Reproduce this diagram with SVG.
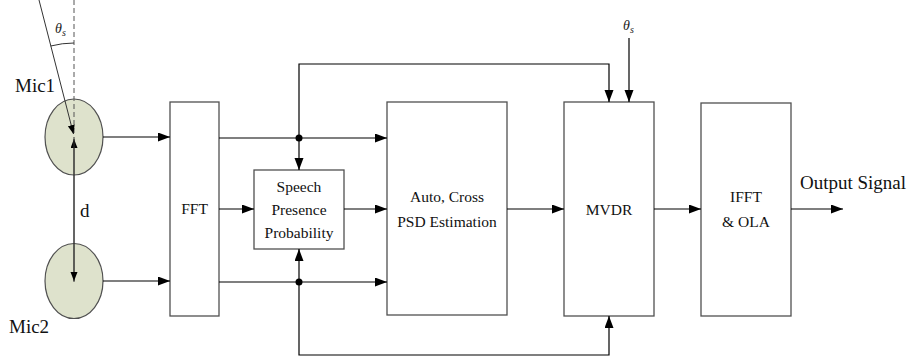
<svg xmlns="http://www.w3.org/2000/svg" width="909" height="358" viewBox="0 0 909 358" font-family="Liberation Serif, Times New Roman, serif">
  <style>
    .box { fill: #ffffff; stroke: #505050; stroke-width: 1.3; }
    .mic { fill: #dee2cc; stroke: #505050; stroke-width: 1.2; }
    .wire { fill: none; stroke: #000000; stroke-width: 1.2; }
    .thin { fill: none; stroke: #333333; stroke-width: 1; }
    text { fill: #111111; }
    .big { font-size: 19px; }
    .mid { font-size: 15.5px; }
    .math { font-style: italic; fill: #222222; font-size: 14px; }
  </style>
  <defs>
    <marker id="arrow" markerUnits="userSpaceOnUse" markerWidth="13" markerHeight="10" refX="12" refY="4.5" orient="auto">
      <path d="M0,0 L12,4.5 L0,9 z" fill="#000000"/>
    </marker>
    <marker id="arrowSmall" markerUnits="userSpaceOnUse" markerWidth="10" markerHeight="8" refX="9" refY="3.5" orient="auto">
      <path d="M0,0 L9,3.5 L0,7 z" fill="#000000"/>
    </marker>
  </defs>

  <!-- microphones and geometry -->
  <g id="mic1">
    <ellipse class="mic" cx="74" cy="137" rx="29" ry="38"/>
    <text class="big" x="15" y="92" font-family="Liberation Serif">Mic1</text>
  </g>
  <g id="mic2">
    <ellipse class="mic" cx="74" cy="281" rx="29" ry="37.5"/>
    <text class="big" x="9" y="333" font-family="Liberation Serif">Mic2</text>
  </g>
  <g id="geometry">
    <line x1="74" y1="0" x2="74" y2="136" stroke="#555555" stroke-width="1" stroke-dasharray="5,3"/>
    <line class="thin" x1="39" y1="0" x2="73.5" y2="134" marker-end="url(#arrowSmall)"/>
    <path class="thin" d="M50.7,46 A94,94 0 0 1 74,43"/>
    <text class="math" x="55" y="33" font-family="Liberation Serif">θ<tspan font-size="10" dy="3">s</tspan></text>
    <line class="thin" x1="74" y1="282" x2="74" y2="139" marker-end="url(#arrowSmall)"/>
    <line class="thin" x1="74" y1="137" x2="74" y2="281" marker-end="url(#arrowSmall)"/>
    <text class="big" x="80" y="217" font-family="Liberation Serif">d</text>
  </g>

  <!-- processing blocks -->
  <g id="fft" font-family="Liberation Serif">
    <rect class="box" x="170" y="102" width="49" height="214"/>
    <text class="mid" x="194.5" y="214" text-anchor="middle">FFT</text>
  </g>
  <g id="spp" font-family="Liberation Serif">
    <rect class="box" x="254" y="170" width="90" height="79"/>
    <text class="mid" x="299" y="192" text-anchor="middle">Speech</text>
    <text class="mid" x="299" y="215" text-anchor="middle">Presence</text>
    <text class="mid" x="299" y="238" text-anchor="middle">Probability</text>
  </g>
  <g id="psd" font-family="Liberation Serif">
    <rect class="box" x="387" y="102" width="120" height="213"/>
    <text class="mid" x="447" y="202" text-anchor="middle">Auto, Cross</text>
    <text class="mid" x="447" y="227" text-anchor="middle">PSD Estimation</text>
  </g>
  <g id="mvdr" font-family="Liberation Serif">
    <rect class="box" x="564" y="102" width="90" height="214"/>
    <text class="mid" x="609" y="215" text-anchor="middle">MVDR</text>
    <text class="math" x="623" y="30">θ<tspan font-size="10" dy="3">s</tspan></text>
  </g>
  <g id="ifft" font-family="Liberation Serif">
    <rect class="box" x="701" y="103" width="90" height="213"/>
    <text class="mid" x="746" y="202" text-anchor="middle">IFFT</text>
    <text class="mid" x="746" y="227" text-anchor="middle">&amp; OLA</text>
  </g>
  <g id="output" font-family="Liberation Serif">
    <text class="big" x="800" y="189">Output Signal</text>
  </g>

  <!-- connectors -->
  <g id="connectors">
    <line class="wire" x1="103" y1="137" x2="170" y2="137" marker-end="url(#arrow)"/>
    <line class="wire" x1="103" y1="281" x2="170" y2="281" marker-end="url(#arrow)"/>
    <line class="wire" x1="219" y1="138" x2="387" y2="138" marker-end="url(#arrow)"/>
    <line class="wire" x1="219" y1="282" x2="387" y2="282" marker-end="url(#arrow)"/>
    <line class="wire" x1="219" y1="209" x2="254" y2="209" marker-end="url(#arrow)"/>
    <line class="wire" x1="344" y1="209" x2="387" y2="209" marker-end="url(#arrow)"/>
    <line class="wire" x1="299" y1="138" x2="299" y2="170" marker-end="url(#arrow)"/>
    <line class="wire" x1="299" y1="282" x2="299" y2="249" marker-end="url(#arrow)"/>
    <polyline class="wire" points="299,138 299,64 609,64 609,102" marker-end="url(#arrow)"/>
    <polyline class="wire" points="299,282 299,355 609,355 609,316" marker-end="url(#arrow)"/>
    <line class="wire" x1="629" y1="38" x2="629" y2="102" marker-end="url(#arrow)"/>
    <line class="wire" x1="507" y1="209" x2="564" y2="209" marker-end="url(#arrow)"/>
    <line class="wire" x1="654" y1="209" x2="701" y2="209" marker-end="url(#arrow)"/>
    <line class="wire" x1="791" y1="209" x2="843" y2="209" marker-end="url(#arrow)"/>
    <circle cx="299" cy="138" r="3.5" fill="#000000"/>
    <circle cx="299" cy="282" r="3.5" fill="#000000"/>
  </g>
</svg>
